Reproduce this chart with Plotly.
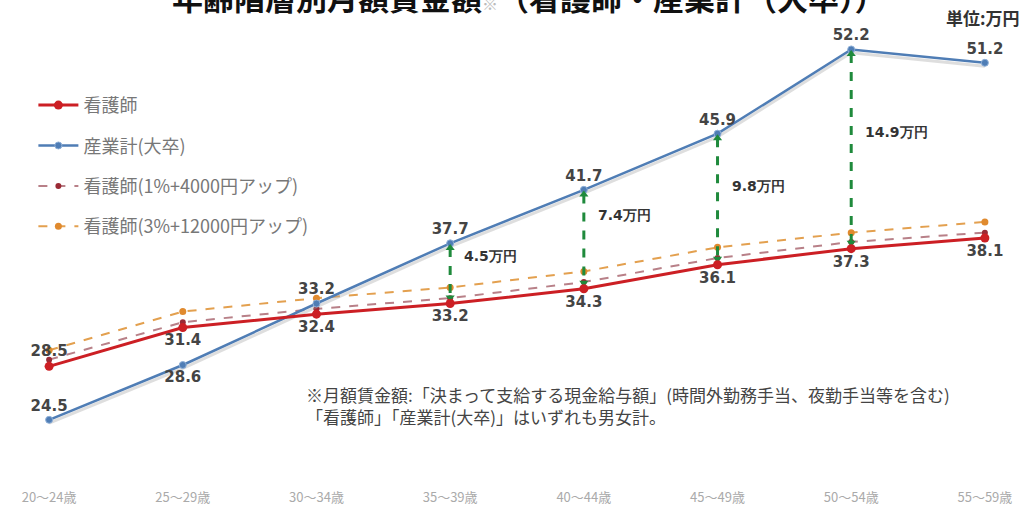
import plotly.graph_objects as go

categories = ["20～24歳", "25～29歳", "30～34歳", "35～39歳", "40～44歳", "45～49歳", "50～54歳", "55～59歳"]
nurse = [28.5, 31.4, 32.4, 33.2, 34.3, 36.1, 37.3, 38.1]
industry = [24.5, 28.6, 33.2, 37.7, 41.7, 45.9, 52.2, 51.2]
nurse_up1 = [29.0, 31.8, 32.8, 33.6, 34.8, 36.6, 37.8, 38.5]
nurse_up3 = [29.7, 32.6, 33.6, 34.4, 35.6, 37.4, 38.5, 39.3]
gap_index = [3, 4, 5, 6]

names = ["看護師", "産業計(大卒)", "看護師(1%+4000円アップ)", "看護師(3%+12000円アップ)"]

nurse_pos = ["top center", "bottom center", "bottom center", "bottom center",
             "bottom center", "bottom center", "bottom center", "bottom center"]
ind_pos = ["top center", "bottom center", "top center", "top center",
           "top center", "top center", "top center", "top center"]
gap_label_y = [36.75, 39.8, 42.0, 46.0]

LABEL_FONT = dict(family="DejaVu Sans", size=15, color="#444444", weight="bold")

fig = go.Figure()

fig.add_trace(go.Scatter(
    x=categories, y=nurse_up3, name=names[3], mode="lines+markers",
    line=dict(color="#e3a04f", width=2, dash="dash"),
    marker=dict(color="#e08a2e", size=7),
    legendgroup="d", legendrank=4))
fig.add_trace(go.Scatter(
    x=categories, y=nurse_up1, name=names[2], mode="lines+markers",
    line=dict(color="#b88088", width=2, dash="dash"),
    marker=dict(color="#9a2a35", size=6),
    legendgroup="c", legendrank=3))

# shadow under the blue line
fig.add_trace(go.Scatter(
    x=categories, y=[v - 0.25 for v in industry], mode="lines",
    line=dict(color="rgba(160,160,160,0.35)", width=3),
    showlegend=False, hoverinfo="skip"))

fig.add_trace(go.Scatter(
    x=categories, y=industry, name=names[1], mode="lines+markers+text",
    line=dict(color="#4f7db5", width=2.5),
    marker=dict(color="#4f7db5", size=7, line=dict(color="#8fb0d8", width=1)),
    text=[f"{v:.1f}" for v in industry], textposition=ind_pos,
    textfont=LABEL_FONT, cliponaxis=False,
    legendgroup="b", legendrank=2))

# green gap arrows
for k, i in enumerate(gap_index):
    top = industry[i] - 0.35
    bot = nurse[i] + 0.45
    fig.add_trace(go.Scatter(
        x=[categories[i], categories[i]], y=[top, bot], mode="lines",
        line=dict(color="#1f8a3c", width=3, dash="dash"),
        showlegend=False, hoverinfo="skip"))
    fig.add_trace(go.Scatter(
        x=[categories[i], categories[i]], y=[top, bot], mode="markers",
        marker=dict(color="#1f8a3c", size=8, symbol=["triangle-up", "triangle-down"]),
        showlegend=False, hoverinfo="skip"))
    fig.add_annotation(
        x=categories[i], y=gap_label_y[k], text=f"<b>{industry[i] - nurse[i]:.1f}万円</b>",
        showarrow=False, xanchor="left", xshift=12,
        font=dict(family="DejaVu Sans", size=14, color="#333333"))

fig.add_trace(go.Scatter(
    x=categories, y=nurse, name=names[0], mode="lines+markers+text",
    line=dict(color="#cc1f24", width=3),
    marker=dict(color="#cc1f24", size=9),
    text=[f"{v:.1f}" for v in nurse], textposition=nurse_pos,
    textfont=LABEL_FONT, cliponaxis=False,
    legendgroup="a", legendrank=1))

fig.add_annotation(
    xref="paper", yref="paper", x=0.512, y=1.034, yanchor="middle",
    text="<b>年齢階層別月額賃金額</b><span style='color:#bbbbbb;font-size:16px'>※</span><b>（看護師・産業計（大卒））</b>",
    showarrow=False, font=dict(family="Noto Sans CJK JP", size=31, color="#111111"))
fig.add_annotation(
    xref="paper", yref="paper", x=0.997, y=0.989, xanchor="right", yanchor="middle",
    text="<b>単位:万円</b>", showarrow=False,
    font=dict(family="Noto Sans CJK JP", size=17, color="#333333"))
fig.add_annotation(
    xref="paper", yref="paper", x=0.29, y=0.16, xanchor="left", yanchor="middle",
    align="left",
    text="※月額賃金額:「決まって支給する現金給与額」(時間外勤務手当、夜勤手当等を含む)<br>「看護師」「産業計(大卒)」はいずれも男女計。",
    showarrow=False,
    font=dict(family="Noto Sans CJK JP", size=17, color="#444444"))

fig.update_layout(
    width=1028, height=513,
    margin=dict(l=9, r=3, t=12, b=33),
    paper_bgcolor="white", plot_bgcolor="white",
    showlegend=True,
    legend=dict(x=0.024, y=0.84, xanchor="left", yanchor="top",
                font=dict(family="Noto Sans CJK JP", size=18, color="#777777"),
                itemwidth=40, tracegroupgap=14, bgcolor="rgba(0,0,0,0)"),
    xaxis=dict(type="category", range=[-0.3, 7.3], showgrid=False, zeroline=False,
               showline=False, ticks="", ticklabelstandoff=8,
               tickfont=dict(family="Noto Sans CJK JP", size=13, color="#aaaaaa")),
    yaxis=dict(range=[20, 55], visible=False, showgrid=False, zeroline=False),
)

fig.write_html("out.html", config={"displayModeBar": False},
               post_script="document.body.style.margin='0';document.body.style.overflow='hidden';")
